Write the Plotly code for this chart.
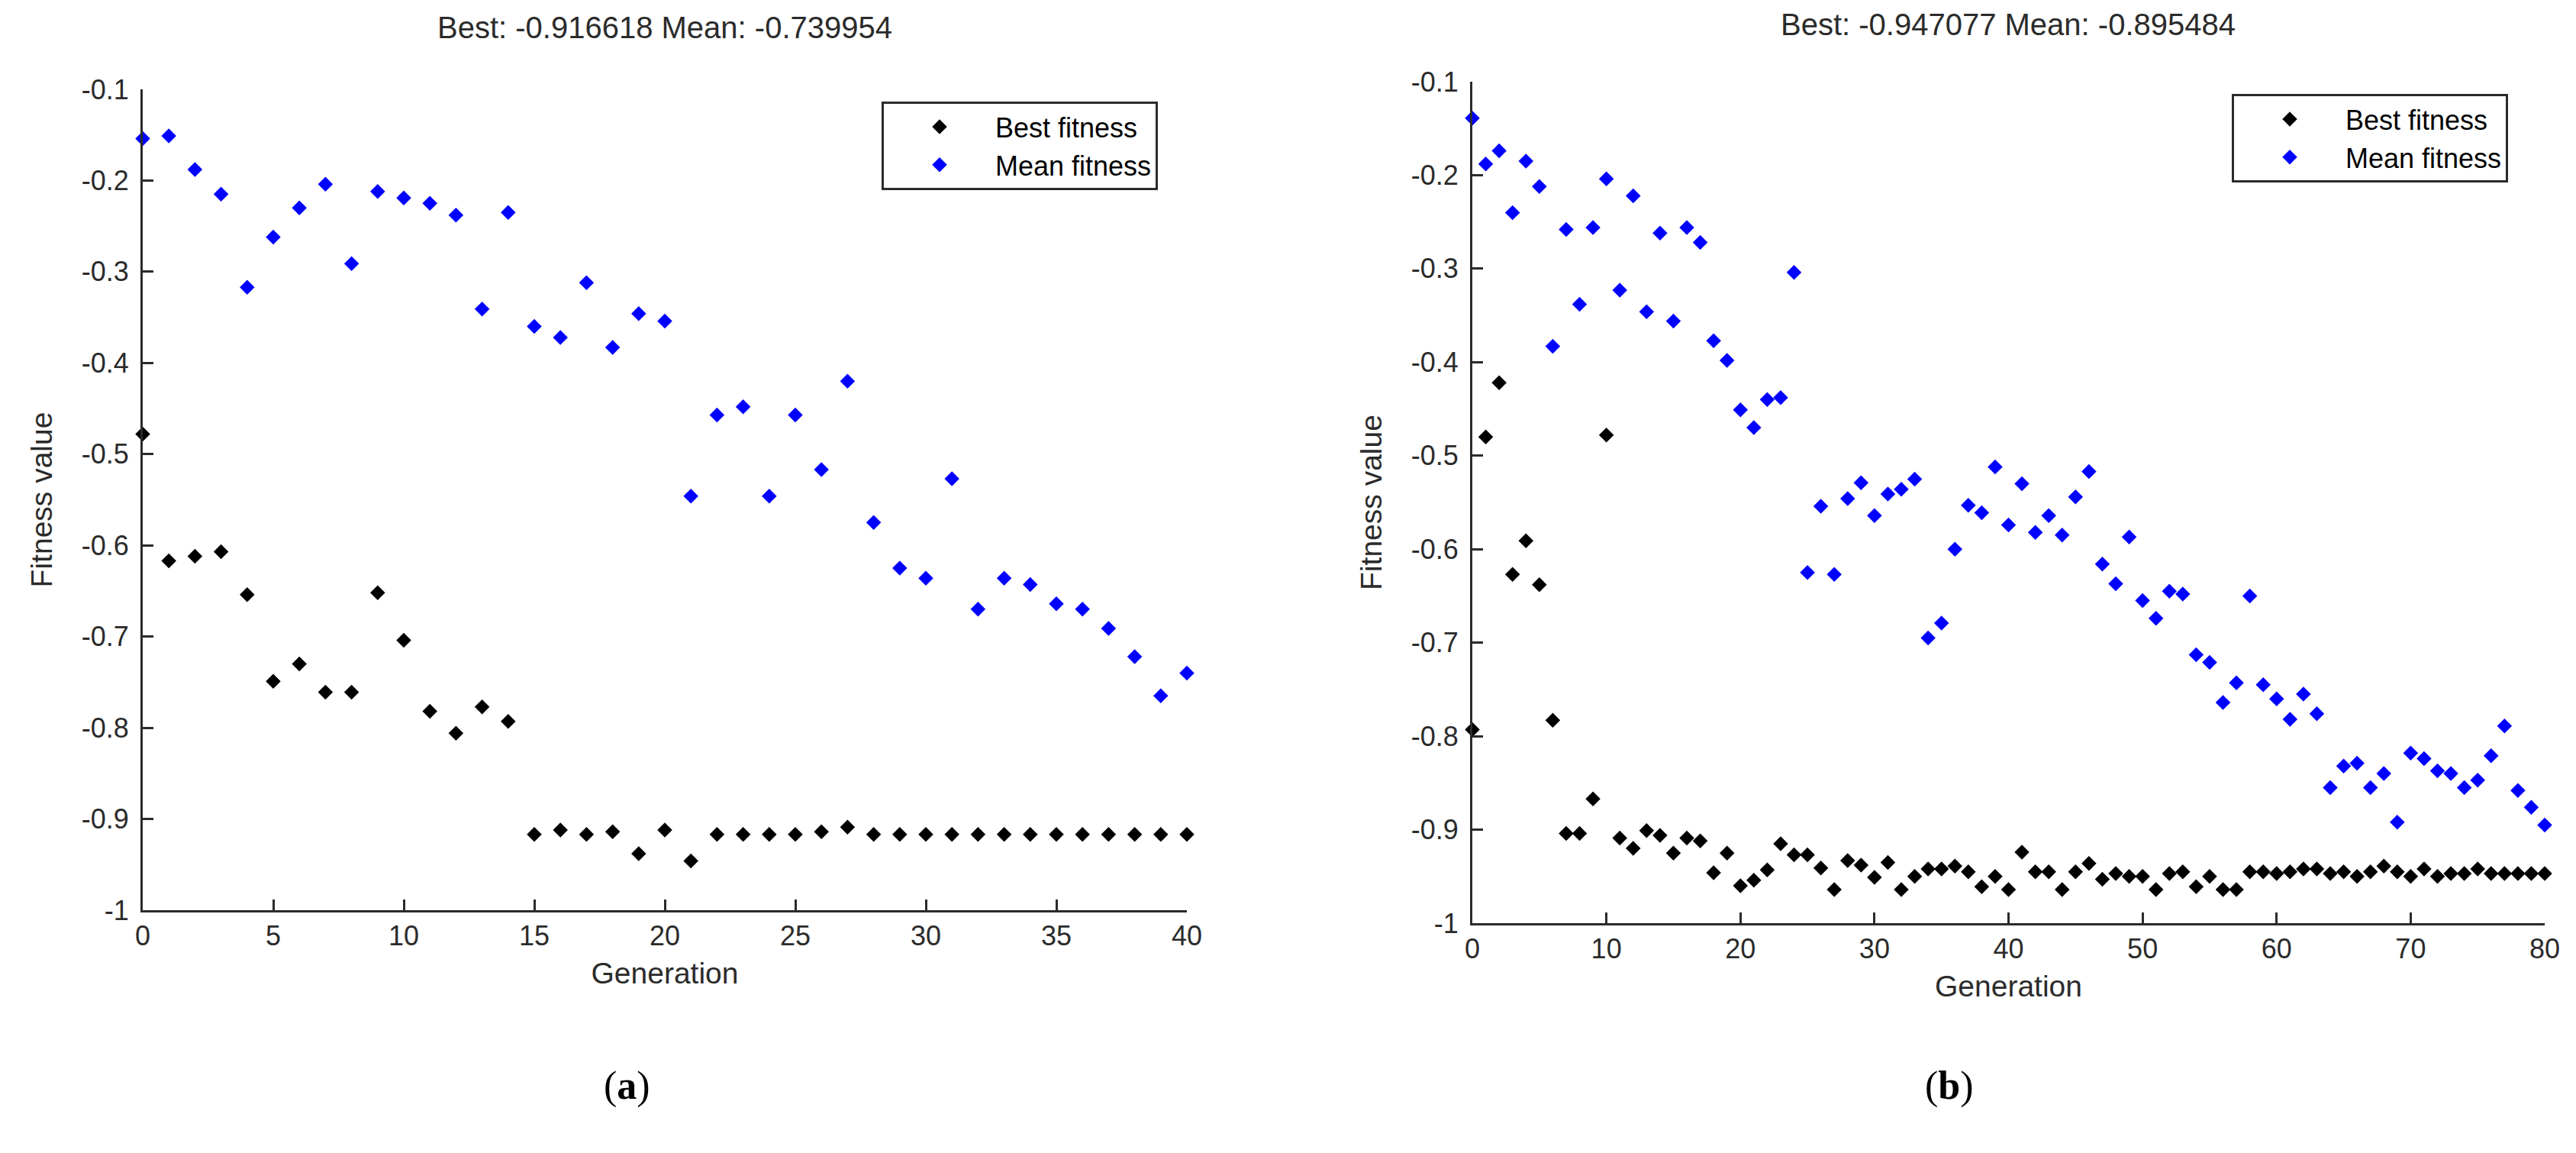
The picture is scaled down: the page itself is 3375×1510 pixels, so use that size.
import plotly.graph_objects as go

gen_a = list(range(0, 41))
best_a = [-0.478, -0.617, -0.612, -0.607, -0.654, -0.749, -0.730, -0.761, -0.761, -0.652,
          -0.704, -0.782, -0.806, -0.777, -0.793, -0.917, -0.912, -0.917, -0.914, -0.938,
          -0.912, -0.946, -0.917, -0.917, -0.917, -0.917, -0.914, -0.909, -0.917, -0.917,
          -0.917, -0.917, -0.917, -0.917, -0.917, -0.917, -0.917, -0.917, -0.917, -0.917,
          -0.917]
mean_a = [-0.154, -0.151, -0.188, -0.215, -0.317, -0.262, -0.230, -0.204, -0.291, -0.212,
          -0.219, -0.225, -0.238, -0.341, -0.235, -0.360, -0.372, -0.312, -0.383, -0.346,
          -0.354, -0.546, -0.457, -0.448, -0.546, -0.457, -0.517, -0.420, -0.575, -0.625,
          -0.636, -0.527, -0.670, -0.636, -0.643, -0.664, -0.670, -0.691, -0.722, -0.765,
          -0.740]

gen_b = list(range(0, 81))
best_b = [-0.793, -0.480, -0.422, -0.627, -0.591, -0.638, -0.783, -0.904, -0.904, -0.867,
          -0.478, -0.909, -0.920, -0.901, -0.906, -0.925, -0.909, -0.912, -0.946, -0.925,
          -0.960, -0.954, -0.943, -0.915, -0.927, -0.927, -0.941, -0.964, -0.933, -0.938,
          -0.951, -0.935, -0.964, -0.950, -0.942, -0.942, -0.939, -0.945, -0.961, -0.950,
          -0.964, -0.924, -0.945, -0.945, -0.964, -0.945, -0.936, -0.953, -0.947, -0.950,
          -0.950, -0.964, -0.947, -0.945, -0.961, -0.950, -0.964, -0.964, -0.945, -0.945,
          -0.947, -0.945, -0.942, -0.942, -0.947, -0.945, -0.950, -0.945, -0.939, -0.945,
          -0.950, -0.942, -0.950, -0.947, -0.947, -0.942, -0.947, -0.947, -0.947, -0.947,
          -0.947]
mean_b = [-0.139, -0.188, -0.174, -0.240, -0.185, -0.212, -0.383, -0.258, -0.338, -0.256,
          -0.204, -0.323, -0.222, -0.346, -0.262, -0.356, -0.256, -0.272, -0.377, -0.398,
          -0.451, -0.470, -0.440, -0.438, -0.304, -0.625, -0.554, -0.627, -0.546, -0.529,
          -0.564, -0.541, -0.536, -0.525, -0.695, -0.679, -0.600, -0.553, -0.561, -0.512,
          -0.574, -0.530, -0.582, -0.564, -0.585, -0.544, -0.517, -0.616, -0.637, -0.587,
          -0.655, -0.674, -0.645, -0.648, -0.713, -0.721, -0.764, -0.743, -0.650, -0.745,
          -0.760, -0.782, -0.755, -0.776, -0.855, -0.832, -0.829, -0.855, -0.840, -0.892,
          -0.818, -0.824, -0.837, -0.840, -0.855, -0.847, -0.821, -0.789, -0.858, -0.876,
          -0.895]

titles = ["Best: -0.916618 Mean: -0.739954", "Best: -0.947077 Mean: -0.895484"]
panel_tags = ["(<b>a</b>)", "(<b>b</b>)"]
y_ticks = [-1, -0.9, -0.8, -0.7, -0.6, -0.5, -0.4, -0.3, -0.2, -0.1]
y_ticktext = ["-1", "-0.9", "-0.8", "-0.7", "-0.6", "-0.5", "-0.4", "-0.3", "-0.2", "-0.1"]

W, H = 3375, 1510
FONT = "Liberation Sans, Arial, sans-serif"
SERIF = "Liberation Serif, Times New Roman, serif"
AXCOL = "#2b2b2b"


def px(x):
    return x / W


def py(y):
    return 1 - y / H


fig = go.Figure()

marker_kw = dict(symbol="diamond", size=15, line=dict(width=0))

# panel (a)
fig.add_trace(go.Scatter(x=gen_a, y=best_a, mode="markers", name="Best fitness",
                         marker=dict(color="black", **marker_kw), cliponaxis=False,
                         xaxis="x", yaxis="y", legend="legend"))
fig.add_trace(go.Scatter(x=gen_a, y=mean_a, mode="markers", name="Mean fitness",
                         marker=dict(color="#0000ff", **marker_kw), cliponaxis=False,
                         xaxis="x", yaxis="y", legend="legend"))
# panel (b)
fig.add_trace(go.Scatter(x=gen_b, y=best_b, mode="markers", name="Best fitness",
                         marker=dict(color="black", **marker_kw), cliponaxis=False,
                         xaxis="x2", yaxis="y2", legend="legend2"))
fig.add_trace(go.Scatter(x=gen_b, y=mean_b, mode="markers", name="Mean fitness",
                         marker=dict(color="#0000ff", **marker_kw), cliponaxis=False,
                         xaxis="x2", yaxis="y2", legend="legend2"))

axis_common = dict(showline=True, linecolor=AXCOL, linewidth=3, ticks="inside",
                   ticklen=14, tickwidth=3, tickcolor=AXCOL, showgrid=False,
                   zeroline=False, mirror=False, automargin=False,
                   tickfont=dict(family=FONT, size=36, color=AXCOL))
label_font = dict(family=FONT, size=39, color=AXCOL)
legend_common = dict(xanchor="left", yanchor="top", bordercolor=AXCOL, borderwidth=3,
                     bgcolor="white", font=dict(family=FONT, size=36, color="black"),
                     indentation=0, itemwidth=136, tracegroupgap=0)

fig.update_layout(
    width=W, height=H,
    paper_bgcolor="white", plot_bgcolor="white",
    margin=dict(l=0, r=0, t=0, b=0, pad=0, autoexpand=False),
    font=dict(family=FONT, color=AXCOL),
    xaxis=dict(domain=[px(179), px(1547)], range=[0, 40], tickvals=list(range(0, 41, 5)),
               anchor="y", title=dict(text="Generation", standoff=16, font=label_font),
               **axis_common),
    yaxis=dict(domain=[py(1184), py(109)], range=[-1, -0.1], tickvals=y_ticks,
               ticktext=y_ticktext, anchor="x", ticklabelstandoff=8,
               title=dict(text="Fitness value", standoff=27, font=label_font),
               **axis_common),
    xaxis2=dict(domain=[px(1921), px(3326)], range=[0, 80], tickvals=list(range(0, 81, 10)),
                anchor="y2", title=dict(text="Generation", standoff=16, font=label_font),
                **axis_common),
    yaxis2=dict(domain=[py(1201), py(99)], range=[-1, -0.1], tickvals=y_ticks,
                ticktext=y_ticktext, anchor="x2", ticklabelstandoff=8,
                title=dict(text="Fitness value", standoff=27, font=label_font),
                **axis_common),
    legend=dict(x=px(1147), y=py(125), **legend_common),
    legend2=dict(x=px(2916), y=py(115), **legend_common),
    showlegend=True,
)

# subplot titles and panel tags
fig.add_annotation(text=titles[0], x=px(863), y=py(28), xref="paper", yref="paper",
                   xanchor="center", yanchor="middle", showarrow=False,
                   font=dict(family=FONT, size=40, color=AXCOL))
fig.add_annotation(text=titles[1], x=px(2623), y=py(24), xref="paper", yref="paper",
                   xanchor="center", yanchor="middle", showarrow=False,
                   font=dict(family=FONT, size=40, color=AXCOL))
fig.add_annotation(text=panel_tags[0], x=px(813), y=py(1414), xref="paper", yref="paper",
                   xanchor="center", yanchor="middle", showarrow=False,
                   font=dict(family=SERIF, size=52, color="black"))
fig.add_annotation(text=panel_tags[1], x=px(2546), y=py(1414), xref="paper", yref="paper",
                   xanchor="center", yanchor="middle", showarrow=False,
                   font=dict(family=SERIF, size=52, color="black"))

fig.write_html("out.html")
